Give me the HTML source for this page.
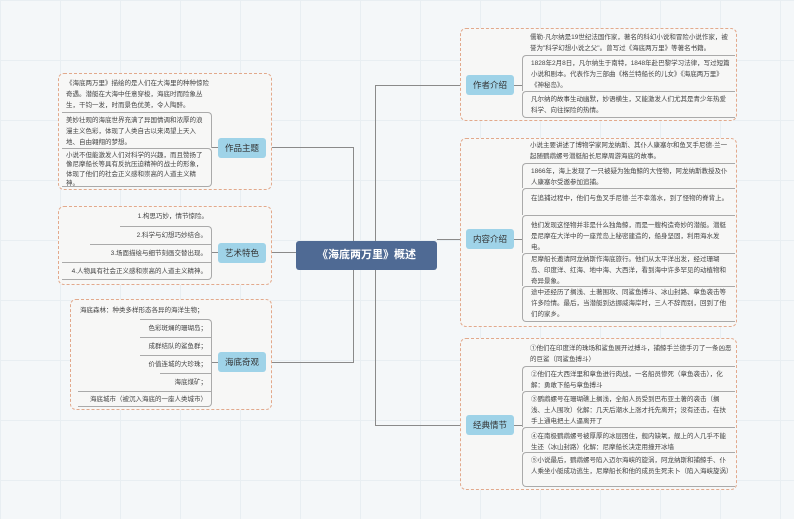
<!DOCTYPE html>
<html><head><meta charset="utf-8"><style>
*{margin:0;padding:0;box-sizing:border-box}
body{width:794px;height:519px;overflow:hidden;position:relative;background:#f4f7f9;font-family:"Liberation Sans","Noto Sans CJK SC",sans-serif;color:#444;
background-image:linear-gradient(#e8eef2 1px,transparent 1px),linear-gradient(90deg,#e8eef2 1px,transparent 1px);background-size:60px 60px}
.box{position:absolute;border:1px dashed #e2a98c;border-radius:6px;background:#f7f7f6}
.lbl{position:absolute;background:#9fd3e8;border-radius:3px;font-size:8.5px;color:#333;text-align:center;line-height:20px;width:48px;height:20px}
.it{position:absolute;font-size:6.5px;line-height:11px;color:#444}
.br{border-top:1px solid #aaa;border-left:1px solid #aaa;border-top-left-radius:4px}
.ln{position:absolute;background:#8a8a8a}
.center{position:absolute;left:296px;top:241px;width:141px;height:29px;background:#4f6a94;border-radius:3px;color:#fff;font-size:11px;font-weight:bold;text-align:center;line-height:29px}
.rt{text-align:right}
</style></head><body>
<div class="ln" style="left:353px;top:147px;width:1px;height:215px"></div>
<div class="ln" style="left:266px;top:147px;width:88px;height:1px"></div>
<div class="ln" style="left:266px;top:252px;width:30px;height:1px"></div>
<div class="ln" style="left:266px;top:362px;width:88px;height:1px"></div>
<div class="ln" style="left:375px;top:85px;width:1px;height:340px"></div>
<div class="ln" style="left:375px;top:85px;width:91px;height:1px"></div>
<div class="ln" style="left:437px;top:239px;width:29px;height:1px"></div>
<div class="ln" style="left:375px;top:425px;width:91px;height:1px"></div>

<div class="box" style="left:460px;top:28px;width:277px;height:93px"></div>
<div class="ln" style="left:514px;top:85px;width:8px;height:1px"></div>
<div class="lbl" style="left:466px;top:75px">作者介绍</div>
<div class="it" style="left:530px;top:32px;width:203px">儒勒·凡尔纳是19世纪法国作家，著名的科幻小说和冒险小说作家，被誉为"科学幻想小说之父"。曾写过《海底两万里》等著名书籍。</div>
<div class="it br" style="left:522px;top:55px;width:213px;height:36px;padding:2px 4px 0 8px">1828年2月8日，凡尔纳生于南特，1848年赴巴黎学习法律，写过短篇小说和剧本。代表作为三部曲《格兰特船长的儿女》《海底两万里》《神秘岛》。</div>
<div class="it br" style="left:522px;top:91px;width:213px;height:27px;padding:2px 4px 0 8px;border-bottom:1px solid #aaa;border-bottom-left-radius:4px">凡尔纳的故事生动幽默，妙语横生，又能激发人们尤其是青少年热爱科学、向往探险的热情。</div>

<div class="box" style="left:460px;top:138px;width:277px;height:189px"></div>
<div class="ln" style="left:514px;top:239px;width:8px;height:1px"></div>
<div class="lbl" style="left:466px;top:229px">内容介绍</div>
<div class="it" style="left:530px;top:140px;width:203px">小说主要讲述了博物学家阿龙纳斯、其仆人康塞尔和鱼叉手尼德·兰一起随鹦鹉螺号潜艇船长尼摩周游海底的故事。</div>
<div class="it br" style="left:522px;top:163px;width:213px;height:25px;padding:2px 4px 0 8px">1866年，海上发现了一只被疑为独角鲸的大怪物，阿龙纳斯教授及仆人康塞尔受邀参加追捕。</div>
<div class="it br" style="left:522px;top:188px;width:213px;height:27px;padding:4px 4px 0 8px">在追捕过程中，他们与鱼叉手尼德·兰不幸落水，到了怪物的脊背上。</div>
<div class="it br" style="left:522px;top:215px;width:213px;height:38px;padding:4px 4px 0 8px">他们发现这怪物并非是什么独角鲸，而是一艘构造奇妙的潜艇。潜艇是尼摩在大洋中的一座荒岛上秘密建造的，船身坚固，利用海水发电。</div>
<div class="it br" style="left:522px;top:253px;width:213px;height:33px;padding:0 4px 0 8px">尼摩船长邀请阿龙纳斯作海底旅行。他们从太平洋出发，经过珊瑚岛、印度洋、红海、地中海、大西洋，看到海中许多罕见的动植物和奇异景象。</div>
<div class="it br" style="left:522px;top:286px;width:213px;height:36px;padding:0 4px 0 8px;border-bottom:1px solid #aaa;border-bottom-left-radius:4px">途中还经历了搁浅、土著围攻、同鲨鱼搏斗、冰山封路、章鱼袭击等许多险情。最后，当潜艇到达挪威海岸时，三人不辞而别，回到了他们的家乡。</div>

<div class="box" style="left:460px;top:338px;width:277px;height:152px"></div>
<div class="ln" style="left:514px;top:425px;width:8px;height:1px"></div>
<div class="lbl" style="left:466px;top:415px">经典情节</div>
<div class="it" style="left:530px;top:343px;width:203px">①他们在印度洋的珠场和鲨鱼展开过搏斗，捕鲸手兰德手刃了一条凶恶的巨鲨（同鲨鱼搏斗）</div>
<div class="it br" style="left:522px;top:366px;width:213px;height:25px;padding:2px 4px 0 8px">②他们在大西洋里和章鱼进行肉战，一名船员惨死（章鱼袭击），化解：勇敢下船与章鱼搏斗</div>
<div class="it br" style="left:522px;top:391px;width:213px;height:36px;padding:2px 4px 0 8px">③鹦鹉螺号在珊瑚礁上搁浅，全船人员受到巴布亚土著的袭击（搁浅、土人围攻）化解：几天后潮水上涨才托先离开；没有还击，在扶手上通电把土人逼离开了</div>
<div class="it br" style="left:522px;top:427px;width:213px;height:25px;padding:3px 4px 0 8px">④在南极鹦鹉螺号被厚厚的冰层困住，舰内缺氧，舰上的人几乎不能生还（冰山封路）化解：尼摩船长决定用撞开冰墙</div>
<div class="it br" style="left:522px;top:452px;width:213px;height:35px;padding:2px 4px 0 8px;border-bottom:1px solid #aaa;border-bottom-left-radius:4px">⑤小说最后，鹦鹉螺号陷入迈尔海峡的旋涡，阿龙纳斯和捕鲸手、仆人乘坐小艇成功逃生，尼摩船长和他的成员生死未卜（陷入海峡旋涡）</div>

<div class="box" style="left:58px;top:73px;width:214px;height:117px"></div>
<div class="ln" style="left:211px;top:147px;width:7px;height:1px"></div>
<div class="lbl" style="left:218px;top:138px">作品主题</div>
<div class="it" style="left:66px;top:78px;width:144px">《海底两万里》描绘的是人们在大海里的种种惊险奇遇。潜艇在大海中任意穿梭，海底时而险象丛生，干钧一发，时而景色优美，令人陶醉。</div>
<div class="it" style="left:62px;top:112px;width:150px;height:36px;padding:2px 4px;border-top:1px solid #aaa;border-right:1px solid #aaa;border-top-right-radius:4px">美妙壮观的海底世界充满了异国情调和浓厚的浪漫主义色彩，体现了人类自古以来渴望上天入地、自由翱翔的梦想。</div>
<div class="it" style="left:62px;top:148px;width:150px;height:39px;padding:0 4px;border-top:1px solid #aaa;border-right:1px solid #aaa;border-bottom:1px solid #aaa;border-top-right-radius:4px;border-bottom-right-radius:4px;line-height:9.3px;padding-top:2px">小说不但能激发人们对科学的兴趣，而且赞扬了像尼摩船长等具有反抗压迫精神的战士的形象，体现了他们的社会正义感和崇高的人道主义精神。</div>

<div class="box" style="left:58px;top:206px;width:214px;height:79px"></div>
<div class="ln" style="left:211px;top:252px;width:7px;height:1px"></div>
<div class="lbl" style="left:218px;top:243px">艺术特色</div>
<div class="it rt" style="left:62px;top:211px;width:150px;padding-right:4px">1.构思巧妙，情节惊险。</div>
<div class="it rt" style="left:120px;top:226px;width:92px;height:18px;padding:3px 4px 0 0;border-top:1px solid #aaa;border-right:1px solid #aaa;border-top-right-radius:4px">2.科学与幻想巧妙结合。</div>
<div class="it rt" style="left:90px;top:244px;width:122px;height:18px;padding:3px 4px 0 0;border-top:1px solid #aaa;border-right:1px solid #aaa">3.场面描绘与细节刻画交替出现。</div>
<div class="it rt" style="left:62px;top:262px;width:150px;height:18px;padding:3px 4px 0 0;border-top:1px solid #aaa;border-right:1px solid #aaa;border-bottom:1px solid #aaa;border-bottom-right-radius:4px">4.人物具有社会正义感和崇高的人道主义精神。</div>

<div class="box" style="left:70px;top:299px;width:202px;height:111px"></div>
<div class="ln" style="left:211px;top:362px;width:7px;height:1px"></div>
<div class="lbl" style="left:218px;top:352px">海底奇观</div>
<div class="it" style="left:80px;top:305px;width:132px">海底森林：种类多样形态各异的海洋生物；</div>
<div class="it rt" style="left:140px;top:319px;width:72px;height:18px;padding:3px 4px 0 0;border-top:1px solid #aaa;border-right:1px solid #aaa;border-top-right-radius:4px">色彩斑斓的珊瑚岛；</div>
<div class="it rt" style="left:140px;top:337px;width:72px;height:18px;padding:3px 4px 0 0;border-top:1px solid #aaa;border-right:1px solid #aaa">成群结队的鲨鱼群；</div>
<div class="it rt" style="left:140px;top:355px;width:72px;height:18px;padding:3px 4px 0 0;border-top:1px solid #aaa;border-right:1px solid #aaa">价值连城的大珍珠；</div>
<div class="it rt" style="left:160px;top:373px;width:52px;height:18px;padding:3px 4px 0 0;border-top:1px solid #aaa;border-right:1px solid #aaa">海底煤矿；</div>
<div class="it rt" style="left:78px;top:391px;width:134px;height:16px;padding:2px 4px 0 0;border-top:1px solid #aaa;border-right:1px solid #aaa;border-bottom:1px solid #aaa;border-bottom-right-radius:4px">海底城市（被沉入海底的一座人类城市）</div>

<div class="center">《海底两万里》概述</div>
</body></html>
